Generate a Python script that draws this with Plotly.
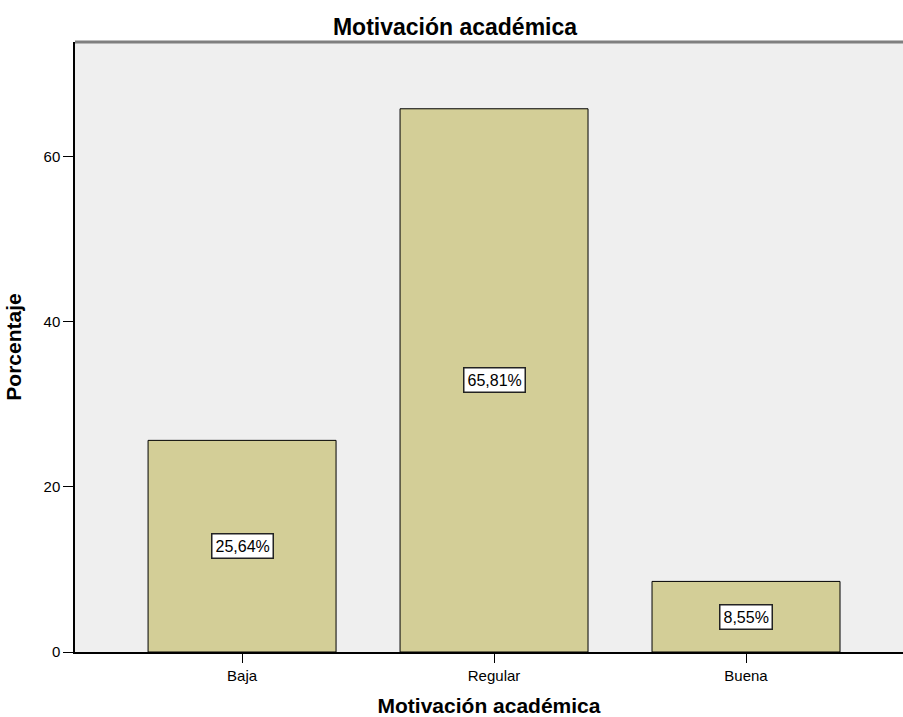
import plotly.graph_objects as go

categories = ["Baja", "Regular", "Buena"]
percentages = [25.64, 65.81, 8.55]
labels = ["25,64%", "65,81%", "8,55%"]
y_ticks = [0, 20, 40, 60]

FONT = "Liberation Sans, Arial, sans-serif"

fig = go.Figure()
fig.add_trace(go.Bar(
    x=list(range(len(categories))),
    y=percentages,
    width=0.746,
    marker=dict(color="#D3CE97", line=dict(color="black", width=1)),
    hoverinfo="skip",
))

for i, (v, lab) in enumerate(zip(percentages, labels)):
    fig.add_annotation(
        x=i, y=v / 2, text=lab, showarrow=False,
        font=dict(family=FONT, size=16, color="black"),
        bgcolor="white", bordercolor="#222222", borderwidth=1.5, borderpad=3,
    )

fig.add_shape(type="line", xref="paper", yref="paper", x0=0, x1=1, y0=1, y1=1,
              line=dict(color="#7f7f7f", width=3))

fig.update_layout(
    width=903, height=717,
    margin=dict(l=75, r=0, t=42, b=65),
    paper_bgcolor="white",
    plot_bgcolor="#EFEFEF",
    showlegend=False,
    title=dict(text="<b>Motivación académica</b>", x=455 / 903, xref="container", xanchor="center",
               y=1 - 27 / 717, yref="container", yanchor="middle",
               font=dict(family=FONT, size=23, color="black")),
    xaxis=dict(
        range=[-0.663, 2.623],
        tickvals=list(range(len(categories))), ticktext=categories,
        ticks="outside", ticklen=9, tickcolor="black", tickwidth=1,
        showline=True, linecolor="black", linewidth=1.5,
        showgrid=False, zeroline=False,
        tickfont=dict(family=FONT, size=15, color="black"),
        title=dict(text="<b>Motivación académica</b>", standoff=18,
                   font=dict(family=FONT, size=21, color="black")),
    ),
    yaxis=dict(
        range=[0, 73.9],
        tickvals=y_ticks,
        ticks="outside", ticklen=10, tickcolor="black", tickwidth=1,
        showline=True, linecolor="black", linewidth=1.5,
        showgrid=False, zeroline=False,
        tickfont=dict(family=FONT, size=15, color="black"),
        title=dict(text="<b>Porcentaje</b>", standoff=16,
                   font=dict(family=FONT, size=21, color="black")),
    ),
)

fig.write_html("out.html", config={"displayModeBar": False},
               post_script="document.body.style.margin='0';document.body.style.overflow='hidden';")
